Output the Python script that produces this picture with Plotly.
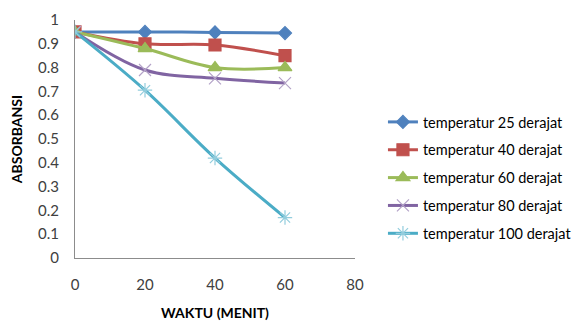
import plotly.graph_objects as go

# Absorbance readings over time at several temperatures
waktu = [0, 20, 40, 60]
series_names = [
    "temperatur 25 derajat",
    "temperatur 40 derajat",
    "temperatur 60 derajat",
    "temperatur 80 derajat",
    "temperatur 100 derajat",
]
abs_25 = [0.95, 0.95, 0.948, 0.945]
abs_40 = [0.95, 0.90, 0.895, 0.85]
abs_60 = [0.95, 0.88, 0.80, 0.80]
abs_80 = [0.95, 0.79, 0.755, 0.735]
abs_100 = [0.95, 0.705, 0.42, 0.17]

line_colors = ["#4F81BD", "#C0504D", "#9BBB59", "#8064A2", "#4BACC6"]
marker_colors = ["#4F81BD", "#C0504D", "#9BBB59", "#B3A2C7", "#93CDDD"]
symbols = ["diamond", "square", "triangle-up", "x-thin-open", "asterisk-open"]
sizes = [10, 12, 12, 12, 12]

fig = go.Figure()
for name, ys, lc, mc, sym, sz in zip(
    series_names, [abs_25, abs_40, abs_60, abs_80, abs_100],
    line_colors, marker_colors, symbols, sizes
):
    fig.add_trace(go.Scatter(
        x=waktu, y=ys, name=name, mode="lines+markers", legendgroup=name,
        line=dict(color=lc, width=3, shape="spline", smoothing=1),
        marker=dict(symbol=sym, size=sz, color=mc,
                    line=dict(color=mc, width=1.2)),
    ))

font_family = "Lato, Noto Sans, sans-serif"
fig.update_layout(
    width=575, height=323,
    margin=dict(l=75, r=220, t=20, b=65),
    paper_bgcolor="white", plot_bgcolor="white",
    font=dict(family=font_family, size=15, color="#404040"),
    showlegend=True,
    legend=dict(
        xref="container", yref="container",
        x=0.666, y=0.449, xanchor="left", yanchor="middle",
        font=dict(size=14.5, color="#000000"),
        itemwidth=30, tracegroupgap=6,
    ),
    xaxis=dict(
        range=[0, 80], tickvals=[0, 20, 40, 60, 80],
        showgrid=False, zeroline=False, automargin=False,
        showline=True, linecolor="#8C8C8C", linewidth=1,
        ticks="outside", ticklen=13, tickcolor="rgba(0,0,0,0)",
        title=dict(text="<b>WAKTU (MENIT)</b>", font=dict(size=14, color="#000000"), standoff=16),
    ),
    yaxis=dict(
        range=[0, 1], dtick=0.1,
        showgrid=False, zeroline=False, automargin=False,
        showline=True, linecolor="#8C8C8C", linewidth=1,
        ticks="outside", ticklen=12, tickcolor="rgba(0,0,0,0)",
        title=dict(text="<b>ABSORBANSI</b>", font=dict(size=14, color="#000000"), standoff=12),
    ),
)

fig.write_html("out.html")
